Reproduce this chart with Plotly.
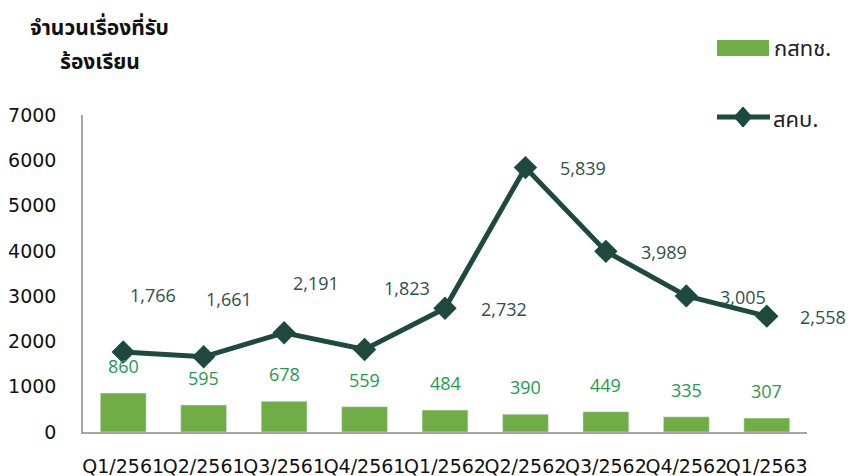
import plotly.graph_objects as go

categories = ["Q1/2561", "Q2/2561", "Q3/2561", "Q4/2561", "Q1/2562",
              "Q2/2562", "Q3/2562", "Q4/2562", "Q1/2563"]
nbtc = [860, 595, 678, 559, 484, 390, 449, 335, 307]          # กสทช.
ocpb = [1766, 1661, 2191, 1823, 2732, 5839, 3989, 3005, 2558]  # สคบ.
y_ticks = [0, 1000, 2000, 3000, 4000, 5000, 6000, 7000]

# label offsets (pixels) of the line's data labels, as placed in the original
line_lbl_dx = [30, 25, 32, 42, 59, 58, 58, 57, 56]
line_lbl_dy = [57, 58, 50, 61, -1, 0, -1, -1, -1]

W, H = 852, 476
L, R, T, B = 83, 45, 115, 44
PW, PH = W - L - R, H - T - B

BAR_C = "#70AD47"
LINE_C = "#1D4A3D"
BAR_TXT = "#1F9A50"
LINE_TXT = "#2E5248"
NUM_FONT = "Open Sans, DejaVu Sans, sans-serif"
AX_FONT = "DejaVu Sans, sans-serif"
TH_FONT = "Tahoma, Noto Sans Thai, Loma, DejaVu Sans, sans-serif"


def px(x):
    return (x - L) / PW


def py(y):
    return (H - B - y) / PH


fig = go.Figure()
fig.add_trace(go.Bar(x=categories, y=nbtc, marker_color=BAR_C, width=0.57,
                     name="กสทช.", showlegend=False))
fig.add_trace(go.Scatter(x=categories, y=ocpb, mode="lines+markers",
                         line=dict(color=LINE_C, width=5),
                         marker=dict(symbol="diamond", size=18, color=LINE_C),
                         name="สคบ.", showlegend=False))

ann = []
for c, v in zip(categories, nbtc):
    ann.append(dict(x=c, y=v, text=f"{v:,}", showarrow=False, yshift=27,
                    font=dict(family=NUM_FONT, size=18, color=BAR_TXT)))
for c, v, dx, dy in zip(categories, ocpb, line_lbl_dx, line_lbl_dy):
    ann.append(dict(x=c, y=v, text=f"{v:,}", showarrow=False, xshift=dx, yshift=dy,
                    font=dict(family=NUM_FONT, size=18, color=LINE_TXT)))

# axis title (two lines)
ann.append(dict(xref="paper", yref="paper", x=px(99), y=py(29), text="<b>จำนวนเรื่องที่รับ</b>",
                showarrow=False, xanchor="center", yanchor="middle",
                font=dict(family=TH_FONT, size=21, color="#111111")))
ann.append(dict(xref="paper", yref="paper", x=px(100), y=py(63), text="<b>ร้องเรียน</b>",
                showarrow=False, xanchor="center", yanchor="middle",
                font=dict(family=TH_FONT, size=21, color="#111111")))

# legend texts
ann.append(dict(xref="paper", yref="paper", x=px(772), y=py(50), text="กสทช.",
                showarrow=False, xanchor="left", yanchor="middle",
                font=dict(family=TH_FONT, size=22, color="#222222")))
ann.append(dict(xref="paper", yref="paper", x=px(771), y=py(120), text="สคบ.",
                showarrow=False, xanchor="left", yanchor="middle",
                font=dict(family=TH_FONT, size=22, color="#222222")))

shapes = [
    dict(type="rect", xref="paper", yref="paper", x0=px(717), x1=px(769),
         y0=py(56), y1=py(40), fillcolor=BAR_C, line=dict(width=0)),
    dict(type="line", xref="paper", yref="paper", x0=px(717), x1=px(770),
         y0=py(117), y1=py(117), line=dict(color=LINE_C, width=5)),
    dict(type="path", xref="paper", yref="paper",
         path=f"M {px(743)},{py(107)} L {px(752)},{py(117)} L {px(743)},{py(127)} L {px(734)},{py(117)} Z",
         fillcolor=LINE_C, line=dict(color=LINE_C, width=1)),
]

fig.update_layout(
    width=W, height=H,
    margin=dict(l=L, r=R, t=T, b=B),
    paper_bgcolor="white", plot_bgcolor="white",
    annotations=ann, shapes=shapes,
    showlegend=False,
    bargap=0.43,
)
fig.update_xaxes(range=[-0.5, len(categories) - 0.5], showgrid=False, showline=True,
                 linecolor="#A6A6A6", linewidth=1.5,
                 ticks="", tickfont=dict(family=AX_FONT, size=19, color="#111111"),
                 ticklabelstandoff=16, tickangle=0, automargin=False)
fig.update_yaxes(range=[0, 7000], tickvals=y_ticks, showgrid=False, zeroline=False,
                 showline=True, linecolor="#A6A6A6", linewidth=1.5, ticks="",
                 tickfont=dict(family=AX_FONT, size=19, color="#111111"),
                 ticklabelstandoff=21, automargin=False)

fig.write_html("out.html", config={"displayModeBar": False},
               post_script="document.body.style.margin='0';document.body.style.overflow='hidden';")
